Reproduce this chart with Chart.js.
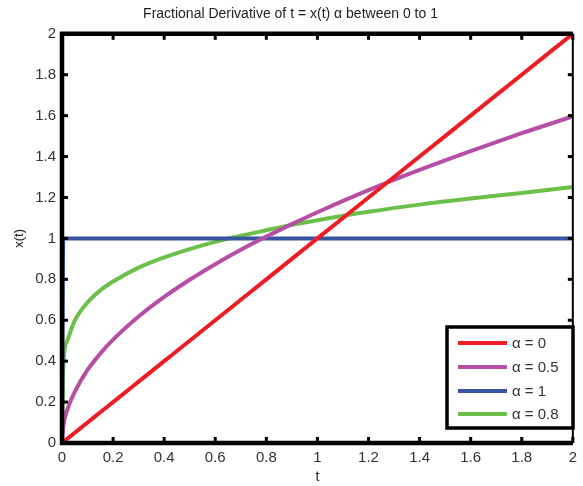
<!DOCTYPE html>
<html>
<head>
<meta charset="utf-8">
<script src="https://cdn.jsdelivr.net/npm/chart.js@4.4.1/dist/chart.umd.min.js"></script>
<style>
  html, body { margin: 0; padding: 0; background: #fff; }
  #wrap { width: 583px; height: 486px; }
</style>
</head>
<body>
<div id="wrap"><canvas id="c" width="583" height="486"></canvas></div>
<script>
// values
const tValues = [0, 0.005, 0.02, 0.05, 0.1, 0.15, 0.2, 0.3, 0.4, 0.5, 0.6, 0.7, 0.8, 0.9, 1.0, 1.2, 1.4, 1.6, 1.8, 2.0];
const alpha0 = [0, 0.005, 0.02, 0.05, 0.1, 0.15, 0.2, 0.3, 0.4, 0.5, 0.6, 0.7, 0.8, 0.9, 1.0, 1.2, 1.4, 1.6, 1.8, 2.0];
const alpha05 = [0, 0.08, 0.16, 0.25, 0.357, 0.437, 0.505, 0.618, 0.714, 0.798, 0.874, 0.944, 1.009, 1.07, 1.128, 1.236, 1.335, 1.427, 1.514, 1.596];
const alpha1 = [0, 1, 1, 1, 1, 1, 1, 1, 1, 1, 1, 1, 1, 1, 1, 1, 1, 1, 1, 1];
const alpha08 = [0, 0.377, 0.498, 0.598, 0.687, 0.746, 0.789, 0.857, 0.907, 0.948, 0.983, 1.013, 1.04, 1.066, 1.089, 1.13, 1.165, 1.195, 1.222, 1.251];
const seriesLabels = ["α = 0", "α = 0.5", "α = 1", "α = 0.8"];
const seriesColors = ["#ee1c24", "#b64ea6", "#3a54a4", "#6cc04a"];
const xTicks = [0, 0.2, 0.4, 0.6, 0.8, 1, 1.2, 1.4, 1.6, 1.8, 2];
const yTicks = [0, 0.2, 0.4, 0.6, 0.8, 1, 1.2, 1.4, 1.6, 1.8, 2];

const pts = ys => tValues.map((t, i) => ({ x: t, y: ys[i] }));
const allSeries = [alpha0, alpha05, alpha1, alpha08];

const font = "'Liberation Sans', Arial, sans-serif";

// axes box with inward ticks + boxed legend, MATLAB style
const framePlugin = {
  id: "frame",
  afterDatasetsDraw(chart){
    const { ctx, chartArea: a, scales } = chart;
    ctx.save();
    ctx.fillStyle = "#000";
    // ticks pointing inward
    xTicks.forEach(v => {
      const px = scales.x.getPixelForValue(v);
      ctx.fillRect(px - 1.5, a.bottom - 6, 3, 6);
      ctx.fillRect(px - 1.5, a.top, 3, 6);
    });
    yTicks.forEach(v => {
      const py = scales.y.getPixelForValue(v);
      ctx.fillRect(a.left, py - 1.5, 6, 3);
      ctx.fillRect(a.right - 5, py - 1.5, 5, 3);
    });
    // frame
    ctx.strokeStyle = "#000";
    ctx.lineWidth = 4.5;
    ctx.beginPath();
    ctx.moveTo(a.right, a.top);
    ctx.lineTo(a.left, a.top);
    ctx.lineTo(a.left, a.bottom);
    ctx.lineTo(a.right, a.bottom);
    ctx.stroke();
    ctx.lineWidth = 2;
    ctx.beginPath();
    ctx.moveTo(a.right, a.top);
    ctx.lineTo(a.right, a.bottom);
    ctx.stroke();

    // legend
    const lx = 447, ly = 327, lw = 126, lh = 101;
    ctx.fillStyle = "#fff";
    ctx.fillRect(lx, ly, lw, lh);
    ctx.lineWidth = 3.5;
    ctx.strokeRect(lx, ly, lw, lh);
    const rows = [343, 367, 391, 414];
    chart.data.datasets.forEach((d, i) => {
      ctx.strokeStyle = d.borderColor;
      ctx.lineWidth = 4;
      ctx.beginPath();
      ctx.moveTo(458, rows[i]);
      ctx.lineTo(507, rows[i]);
      ctx.stroke();
      ctx.fillStyle = "#333";
      ctx.font = "15px " + font;
      ctx.textBaseline = "middle";
      ctx.fillText(d.label, 512, rows[i] + 1);
    });
    ctx.restore();
  }
};

new Chart(document.getElementById("c"), {
  type: "line",
  data: {
    datasets: allSeries.map((s, i) => ({
      label: seriesLabels[i],
      data: pts(s),
      borderColor: seriesColors[i],
      backgroundColor: seriesColors[i],
      borderWidth: 4,
      pointRadius: 0,
      tension: 0.3,
      cubicInterpolationMode: "monotone",
    })),
  },
  options: {
    responsive: false,
    animation: false,
    layout: { padding: { right: 2, top: 0, bottom: 0, left: 0 } },
    plugins: {
      legend: { display: false },
      tooltip: { enabled: false },
      title: {
        display: true,
        text: "Fractional Derivative of t = x(t) α between 0 to 1",
        color: "#222",
        font: { family: font, size: 14, weight: "normal" },
        padding: { top: 6, bottom: 11 },
        align: "center",
      },
    },
    scales: {
      x: {
        type: "linear",
        min: 0, max: 2,
        afterBuildTicks: s => { s.ticks = xTicks.map(v => ({ value: v })); },
        afterFit: s => { s.height = 43; },
        grid: { display: false, drawTicks: false },
        border: { display: false },
        ticks: { color: "#333", padding: 6, maxRotation: 0, font: { family: font, size: 15 }, callback: v => String(v) },
        title: { display: true, text: "t", color: "#222", padding: { top: 0, bottom: 0 }, font: { family: font, size: 14 } },
      },
      y: {
        type: "linear",
        min: 0, max: 2,
        afterBuildTicks: s => { s.ticks = yTicks.map(v => ({ value: v })); },
        afterFit: s => { s.width = 62; },
        grid: { display: false, drawTicks: false },
        border: { display: false },
        ticks: { color: "#333", padding: 6, font: { family: font, size: 15 }, callback: v => String(v) },
        title: { display: true, text: "x(t)", color: "#222", padding: { top: 12, bottom: 0 }, font: { family: font, size: 13 } },
      },
    },
  },
  plugins: [framePlugin],
});
</script>
</body>
</html>
